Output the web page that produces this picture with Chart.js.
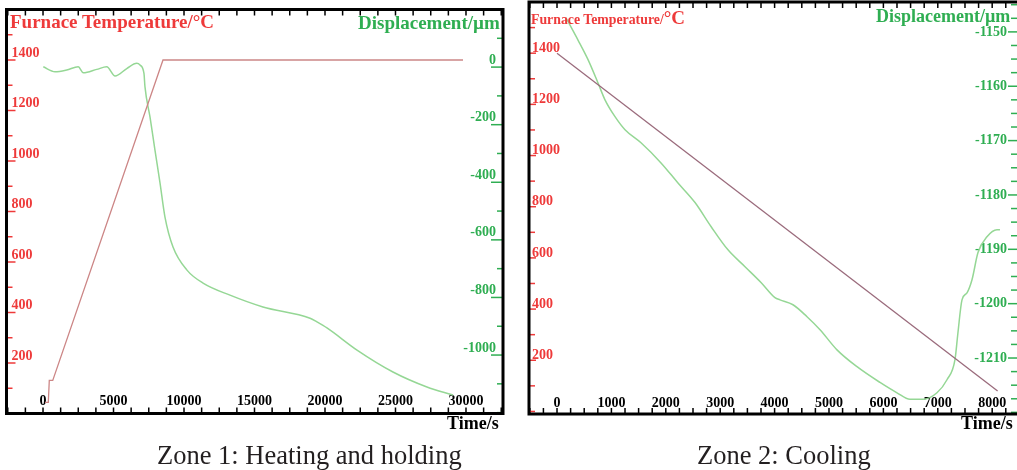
<!DOCTYPE html>
<html>
<head>
<meta charset="utf-8">
<script src="https://cdn.jsdelivr.net/npm/chart.js@4.4.0/dist/chart.umd.min.js"></script>
<style>
  body { margin: 0; width: 1017px; height: 470px; overflow: hidden; background: #fff; position: relative;
         font-family: "Liberation Serif", "Times New Roman", serif; }
  canvas { position: absolute; left: 0; top: 0; }
  .t { position: absolute; font-weight: bold; line-height: 1; white-space: nowrap; }
  .red { color: #ee3a3a; }
  .green { color: #2fae52; }
  .cap { position: absolute; font-size: 26.5px; line-height: 1; color: #231f20; white-space: nowrap; }
</style>
</head>
<body>
<canvas id="heat" width="1020" height="470"></canvas>
<canvas id="cool" width="1020" height="470"></canvas>

<div class="t red" style="left:10px;top:12px;font-size:19px">Furnace Temperature/°C</div>
<div class="t green" style="left:358px;top:13px;font-size:19px">Displacement/µm</div>
<div class="t" style="left:447px;top:414px;font-size:18px">Time/s</div>
<div class="cap" style="left:157px;top:442px">Zone 1: Heating and holding</div>

<div class="t red" style="left:531px;top:8px;font-size:13.8px">Furnace Temperature/<span style="font-size:19px">°C</span></div>
<div class="t green" style="left:876px;top:7px;font-size:18px">Displacement/µm</div>
<div class="t" style="left:961px;top:414px;font-size:18px">Time/s</div>
<div class="cap" style="left:697px;top:442px">Zone 2: Cooling</div>

<script>
// Zone 1: heating and holding
const heatTempTime = [142, 375, 445, 690, 8510, 29790];
const heatTemp = [44, 44, 131, 131, 1400, 1400];
const heatDispTime = [20, 850, 1680, 2500, 2860, 3810, 4520, 5110, 5940, 6650, 6880, 7160, 7230,
  7590, 7940, 8300, 8650, 9220, 10210, 11350, 13260, 15600, 18940, 19430, 20140, 22270, 24820, 27230, 29080];
const heatDisp = [1, -16, -10, 1, -20, -8, 1, -31, -5, 13, 7, -22, -68,
  -174, -288, -403, -521, -625, -705, -750, -792, -833, -872, -885, -906, -983, -1059, -1111, -1139];

// Zone 2: cooling
const coolTempTime = [0, 8100];
const coolTemp = [1400, 80];
const coolDispTime = [165, 386, 570, 754, 882, 1066, 1250, 1544, 1912, 2224, 2537, 2831, 3143, 3456,
  3750, 4007, 4099, 4338, 4596, 4835, 5147, 5515, 5938, 6250, 6489, 6728, 6985, 7169, 7316, 7371,
  7445, 7537, 7629, 7739, 7904, 8088, 8143];
const coolDisp = [-1147.4, -1151.5, -1155.1, -1159.4, -1162.5, -1165.6, -1168.0, -1170.4, -1174.1,
  -1177.8, -1181.4, -1185.8, -1190.1, -1193.2, -1196.1, -1198.9, -1199.3, -1200.2, -1202.4, -1204.8,
  -1208.5, -1211.6, -1214.5, -1216.4, -1217.6, -1217.6, -1216.4, -1214.0, -1210.3, -1205.3, -1199.3,
  -1198.0, -1195.6, -1190.6, -1187.7, -1186.4, -1186.4];

// tick labels shown on each axis
const tempLabels = [200, 400, 600, 800, 1000, 1200, 1400];
const heatDispLabels = [0, -200, -400, -600, -800, -1000];
const heatTimeLabels = [0, 5000, 10000, 15000, 20000, 25000, 30000];
const coolDispLabels = [-1150, -1160, -1170, -1180, -1190, -1200, -1210];
const coolTimeLabels = [0, 1000, 2000, 3000, 4000, 5000, 6000, 7000, 8000];

const RED = '#ee3a3a';
const GREEN = '#2fae52';
const tickFont = { family: 'Liberation Serif', weight: 'bold', size: 14 };

function pts(xs, ys) {
  return xs.map((x, i) => ({ x: x, y: ys[i] }));
}

function showOnly(list) {
  return v => list.includes(v) ? String(v) : '';
}

// ticks at every multiple of step inside the axis range
function everyStep(step) {
  return scale => {
    const ticks = [];
    for (let k = Math.ceil(scale.min / step); k * step <= scale.max; k++) {
      ticks.push({ value: k * step });
    }
    scale.ticks = ticks;
  };
}

// no space taken by the axes: chart area is set by layout padding only
function noSpace(scale) {
  scale.paddingTop = 0; scale.paddingBottom = 0;
  scale.paddingLeft = 0; scale.paddingRight = 0;
  if (scale.isHorizontal()) scale.height = 0; else scale.width = 0;
}

// frame round the chart area plus inward tick marks
const frameTicks = {
  id: 'frameTicks',
  afterDraw(chart, args, opts) {
    const { ctx, chartArea: a } = chart;
    ctx.save();
    ctx.lineWidth = 1.5;
    opts.marks.forEach(m => {
      const s = chart.scales[m.scale];
      ctx.strokeStyle = m.color;
      s.ticks.forEach(t => {
        if (t.value <= s.min || t.value >= s.max) return;
        const p = s.getPixelForValue(t.value);
        const len = t.label !== '' ? m.major : m.minor;
        ctx.beginPath();
        m.sides.forEach(side => {
          if (side === 'top') { ctx.moveTo(p, a.top); ctx.lineTo(p, a.top + len); }
          if (side === 'bottom') { ctx.moveTo(p, a.bottom); ctx.lineTo(p, a.bottom - len); }
          if (side === 'left') { ctx.moveTo(a.left, p); ctx.lineTo(a.left + len, p); }
          if (side === 'right') { ctx.moveTo(a.right, p); ctx.lineTo(a.right - len, p); }
        });
        ctx.stroke();
      });
    });
    ctx.lineWidth = 3;
    ctx.strokeStyle = '#000';
    ctx.strokeRect(a.left, a.top, a.right - a.left, a.bottom - a.top);
    ctx.restore();
  }
};

function tempSet(data, color) {
  return { data: data, yAxisID: 'yT', borderColor: color, borderWidth: 1.3, pointRadius: 0, fill: false, tension: 0 };
}

function dispSet(data) {
  return { data: data, yAxisID: 'yD', borderColor: '#95d795', borderWidth: 1.5, pointRadius: 0, fill: false,
           cubicInterpolationMode: 'monotone' };
}

function axis(extra, step, labels, color, tick) {
  return Object.assign({
    afterFit: noSpace,
    afterBuildTicks: everyStep(step),
    grid: { display: false, drawTicks: false },
    border: { display: false },
    ticks: Object.assign({ mirror: true, autoSkip: false, maxRotation: 0, color: color, font: tickFont,
                           callback: showOnly(labels) }, tick)
  }, extra);
}

new Chart(document.getElementById('heat'), {
  type: 'line',
  data: {
    datasets: [
      tempSet(pts(heatTempTime, heatTemp), '#cc8686'),
      dispSet(pts(heatDispTime, heatDisp))
    ]
  },
  options: {
    responsive: false, animation: false,
    layout: { padding: { left: 6.5, top: 9.5, right: 1020 - 503, bottom: 470 - 413.5 } },
    plugins: {
      legend: { display: false }, tooltip: { enabled: false },
      frameTicks: {
        marks: [
          { scale: 'x', color: '#000', major: 6, minor: 6, sides: ['top', 'bottom'] },
          { scale: 'yT', color: RED, major: 9, minor: 6, sides: ['left'] },
          { scale: 'yD', color: GREEN, major: 12, minor: 6, sides: ['right'] }
        ]
      }
    },
    scales: {
      x: axis({ type: 'linear', min: -2590, max: 32625 }, 1250, heatTimeLabels, '#000', { padding: 3.5 }),
      yT: axis({ position: 'left', min: 0, max: 1600 }, 100, tempLabels, RED, { padding: 5, labelOffset: -7 }),
      yD: axis({ position: 'right', min: -1203, max: 200 }, 100, heatDispLabels, GREEN, { padding: -7, labelOffset: -7 })
    }
  },
  plugins: [frameTicks]
});

new Chart(document.getElementById('cool'), {
  type: 'line',
  data: {
    datasets: [
      tempSet(pts(coolTempTime, coolTemp), '#9a6b7c'),
      dispSet(pts(coolDispTime, coolDisp))
    ]
  },
  options: {
    responsive: false, animation: false,
    layout: { padding: { left: 529, top: 2, right: 1, bottom: 470 - 414 } },
    plugins: {
      legend: { display: false }, tooltip: { enabled: false },
      frameTicks: {
        marks: [
          { scale: 'x', color: '#000', major: 6, minor: 6, sides: ['top', 'bottom'] },
          { scale: 'yT', color: RED, major: 7, minor: 6, sides: ['left'] },
          { scale: 'yD', color: GREEN, major: 11, minor: 8, sides: ['right'] }
        ]
      }
    },
    scales: {
      x: axis({ type: 'linear', min: -515, max: 8493 }, 250, coolTimeLabels, '#000', { padding: 2.5 }),
      yT: axis({ position: 'left', min: -10, max: 1600 }, 100, tempLabels, RED, { padding: 3, labelOffset: -5 }),
      yD: axis({ position: 'right', min: -1220.3, max: -1144.5 }, 2.5, coolDispLabels, GREEN, { padding: -12 })
    }
  },
  plugins: [frameTicks]
});
</script>
</body>
</html>
